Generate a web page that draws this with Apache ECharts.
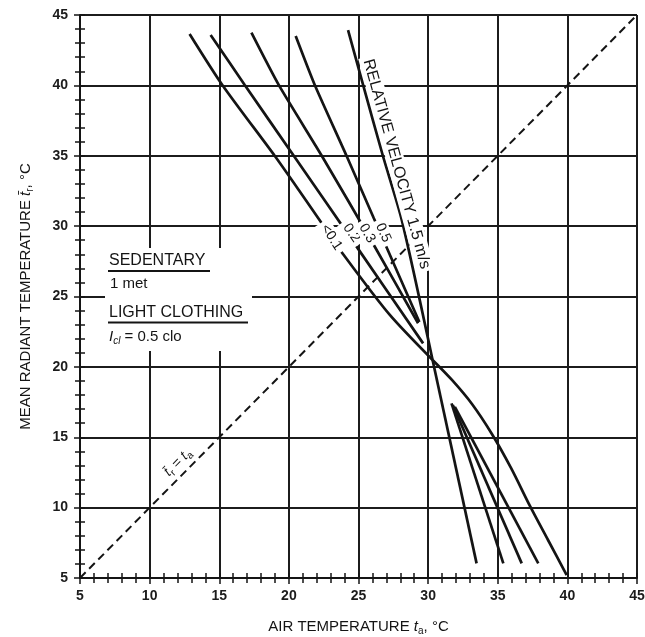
<!DOCTYPE html>
<html><head><meta charset="utf-8">
<script src="https://cdn.jsdelivr.net/npm/echarts@6/dist/echarts.min.js"></script>
<style>html,body{margin:0;padding:0;background:#fff}#c{width:645px;height:637px}</style>
</head><body><div id="c"></div>
<script>
// ---------- data ----------
const axisRange = [5, 45];          // both axes, °C
const axisStep = 5;                 // tick label step
const identityLine = [[5, 5], [45, 45]];   // t_r = t_a

// relative velocity curves: [air temperature, mean radiant temperature]
const v01Upper = [[12.87,43.65],[15.22,40.03],[18.98,35.0],[20.71,32.57],[22.25,30.36],[23.94,27.95],[27.25,23.69],[30.32,20.49]];
const v01Lower = [[30.32,20.49],[31.71,19.07],[33.15,17.36],[34.58,15.23],[35.95,12.82],[37.31,10.12],[38.61,7.70],[39.95,5.21]];
const v02Upper = [[14.38,43.58],[16.83,40.03],[20.35,35.0],[24.95,28.42],[29.64,21.67]];
const v02Lower = [[31.92,17.15],[37.91,6.04]];
const v03Upper = [[17.31,43.74],[19.27,40.03],[22.36,35.0],[26.14,28.59],[29.28,23.10]];
const v03Lower = [[31.77,17.29],[36.72,6.04]];
const v05Upper = [[20.49,43.51],[21.86,40.03],[24.14,35.0],[26.10,30.56],[29.37,23.19]];
const v05Lower = [[31.68,17.41],[35.40,6.04]];
const v15Upper = [[24.25,43.93],[25.33,40.03],[26.75,35.0],[28.11,30.43],[30.32,20.49]];
const v15Lower = [[30.32,20.49],[33.48,6.04]];

const curveLabels = ['<0.1', '0.2', '0.3', '0.5', 'RELATIVE VELOCITY 1.5 m/s'];

// ---------- annotation placement (data coords / degrees) ----------
const curveLabelAnchor = [[23.06,29.21],[24.50,29.51],[25.62,29.49],[26.77,29.53],[27.73,34.41]];
const curveLabelAngle = [-57, -55, -60, -66, -74.6];
const identityLabelAnchor = [12.03, 13.21];

// ---------- chart ----------
const F = '"Liberation Sans", Arial, Helvetica, sans-serif';
const INK = '#141414';
const GRID = { left: 80, right: 8, top: 15, bottom: 59, outerBoundsMode: 'none', containLabel: false };

function subRich(size) {
  return {
    it: { fontStyle: 'italic', fontSize: size, fontFamily: F, color: INK, fill: INK },
    sub: { fontSize: Math.round(size * 0.68), fontFamily: F, color: INK, fill: INK, verticalAlign: 'bottom', padding: [8, 0, 0, 0] },
    subit: { fontSize: Math.round(size * 0.68), fontStyle: 'italic', fontFamily: F, color: INK, fill: INK, verticalAlign: 'bottom', padding: [8, 0, 0, 0] }
  };
}

function mainAxis(gridIndex, name, gap, rotate, labelMargin) {
  return {
    type: 'value', gridIndex: gridIndex, min: axisRange[0], max: axisRange[1], interval: axisStep,
    name: name, nameLocation: 'middle', nameGap: gap, nameRotate: rotate,
    nameTextStyle: { fontSize: 15, fontFamily: F, color: INK, rich: subRich(15) },
    axisLine: { show: true, onZero: false, lineStyle: { color: INK, width: 2 } },
    axisTick: { show: true, length: 6, lineStyle: { color: INK, width: 1.5 } },
    minorTick: { show: true, splitNumber: 5, length: 5, lineStyle: { color: INK, width: 1.5 } },
    splitLine: { show: true, lineStyle: { color: '#1c1c1c', width: 2 } },
    axisLabel: { color: '#1c1c1c', fontSize: 14, fontWeight: 'bold', fontFamily: F, margin: labelMargin }
  };
}
function innerTicks(gridIndex) {
  return {
    type: 'value', gridIndex: gridIndex, min: axisRange[0], max: axisRange[1], interval: axisStep,
    axisLine: { show: false },
    axisTick: { show: true, inside: true, length: 5, lineStyle: { color: INK, width: 1.5 } },
    minorTick: { show: true, splitNumber: 5, length: 5, lineStyle: { color: INK, width: 1.5 } },
    splitLine: { show: false }, axisLabel: { show: false }
  };
}

function curve(name, data, smooth) {
  return {
    type: 'line', name: name, data: data, showSymbol: false, symbol: 'none', smooth: smooth || false,
    silent: true, z: 3, lineStyle: { color: INK, width: 2.7 }
  };
}

const chart = echarts.init(document.getElementById('c'), null, { renderer: 'canvas' });

chart.setOption({
  backgroundColor: '#fff',
  animation: false,
  grid: [Object.assign({}, GRID), Object.assign({}, GRID)],
  xAxis: [
    mainAxis(0, 'AIR TEMPERATURE {it|t}{sub|a}, °C', 40, 0, 11),
    innerTicks(1)
  ],
  yAxis: [
    mainAxis(0, 'MEAN RADIANT TEMPERATURE {it|t\u0304}{sub|r}, °C', 45, 90, 12),
    innerTicks(1)
  ],
  series: [
    {
      type: 'line', name: 'tr = ta', data: identityLine, showSymbol: false, symbol: 'none', silent: true, z: 2,
      lineStyle: { color: INK, width: 2, type: [8, 5] }
    },
    curve('<0.1 upper', v01Upper, 0.25),
    curve('<0.1 lower', v01Lower, 0.3),
    curve('0.2 upper', v02Upper, 0.2),
    curve('0.2 lower', v02Lower),
    curve('0.3 upper', v03Upper, 0.2),
    curve('0.3 lower', v03Lower),
    curve('0.5 upper', v05Upper, 0.2),
    curve('0.5 lower', v05Lower),
    curve('1.5 upper', v15Upper, 0.25),
    curve('1.5 lower', v15Lower)
  ]
});

// annotations placed through the grid's own coordinate conversion
const toPx = p => chart.convertToPixel({ gridIndex: 0 }, p);
const deg = a => a * Math.PI / 180;

const graphics = [
  { type: 'rect', z: 50, shape: { x: 105, y: 248, width: 147, height: 103 }, style: { fill: '#fff' } },
  { type: 'text', z: 51, x: 109, y: 261, style: { text: 'SEDENTARY', fontSize: 16, fontFamily: F, fill: INK, verticalAlign: 'middle' } },
  { type: 'line', z: 51, shape: { x1: 108, y1: 271, x2: 210, y2: 271 }, style: { stroke: INK, lineWidth: 2 } },
  { type: 'text', z: 51, x: 110, y: 283.5, style: { text: '1 met', fontSize: 15, fontFamily: F, fill: INK, verticalAlign: 'middle' } },
  { type: 'text', z: 51, x: 109, y: 313, style: { text: 'LIGHT CLOTHING', fontSize: 16, fontFamily: F, fill: INK, verticalAlign: 'middle' } },
  { type: 'line', z: 51, shape: { x1: 108, y1: 322.5, x2: 248, y2: 322.5 }, style: { stroke: INK, lineWidth: 2 } },
  { type: 'text', z: 51, x: 109, y: 337, style: { text: '{it|I}{subit|cl} = 0.5 clo', fontSize: 15, fontFamily: F, fill: INK, verticalAlign: 'middle', rich: subRich(15) } }
];

curveLabels.forEach((t, i) => {
  const p = toPx(curveLabelAnchor[i]);
  graphics.push({
    type: 'text', z: 60, x: p[0], y: p[1], rotation: deg(curveLabelAngle[i]),
    style: {
      text: t, fontSize: i === 4 ? 16 : 14, fontFamily: F, fill: INK,
      align: 'center', verticalAlign: 'middle',
      backgroundColor: '#fff', padding: i === 4 ? [1, 3] : [1, 4]
    }
  });
});

const ip = toPx(identityLabelAnchor);
graphics.push({
  type: 'text', z: 60, x: ip[0], y: ip[1], rotation: deg(45),
  style: {
    text: '{it|t\u0304}{sub|r} = {it|t}{sub|a}', fontSize: 14, fontFamily: F, fill: INK,
    align: 'center', verticalAlign: 'middle', rich: subRich(14)
  }
});

chart.setOption({ graphic: graphics });
</script>
</body></html>
